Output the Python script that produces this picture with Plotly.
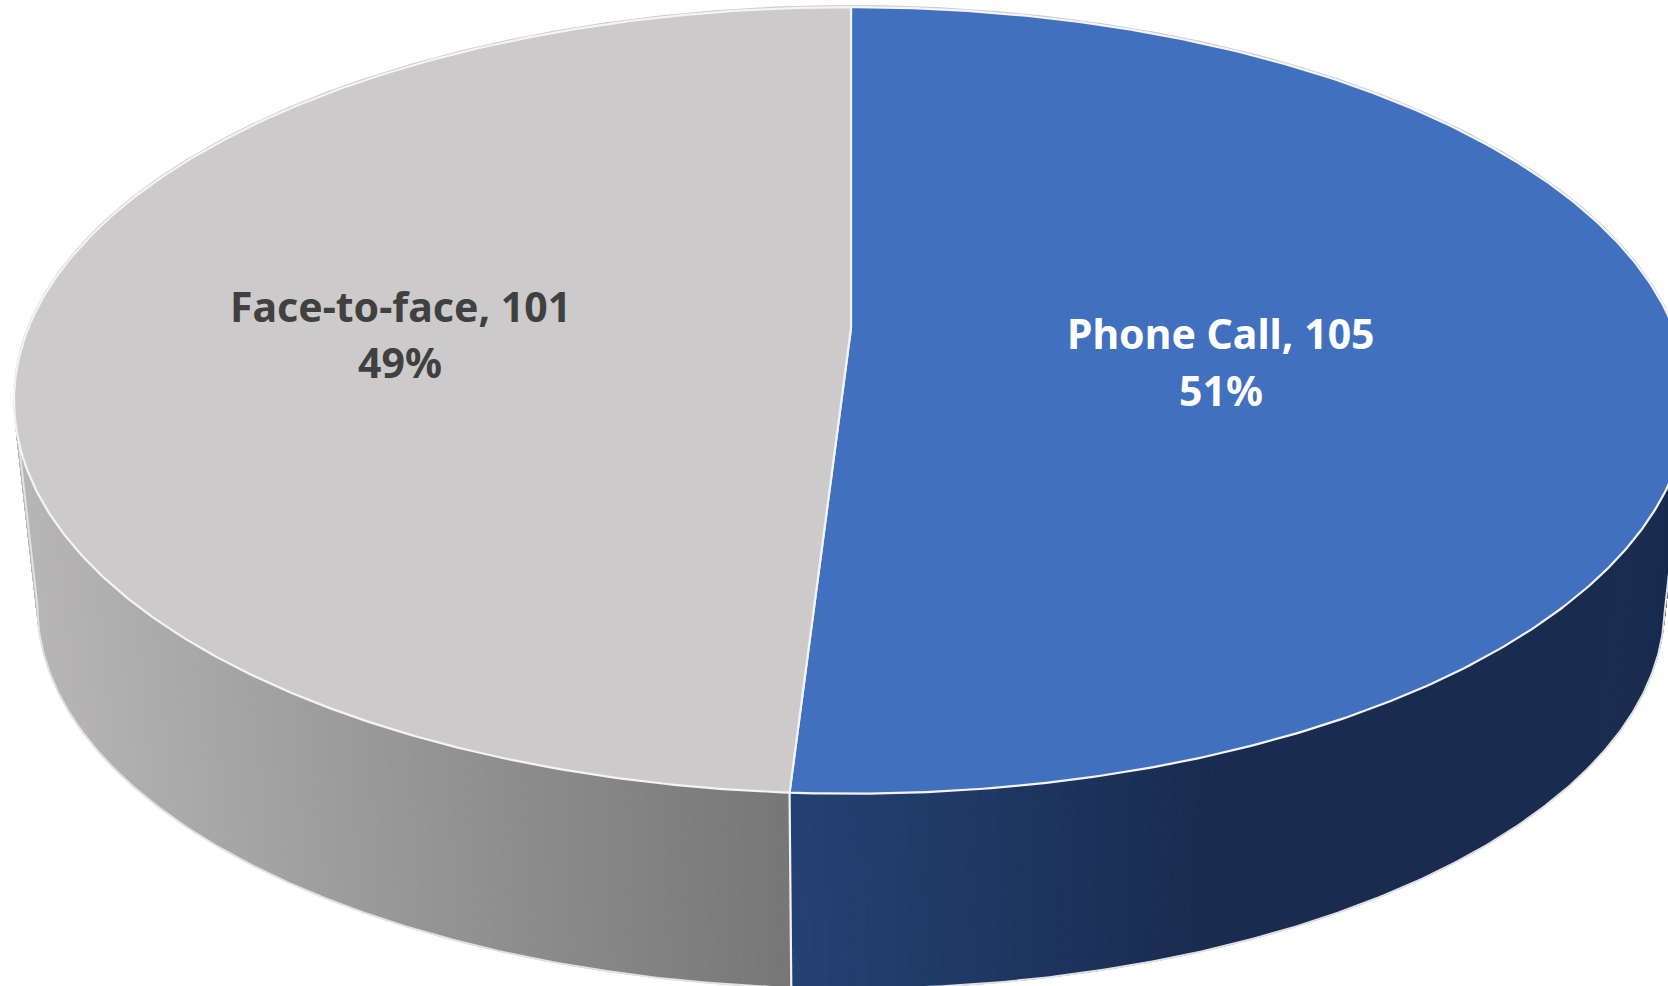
import numpy as np
import plotly.graph_objects as go

# ---- data ----
categories = ["Phone Call", "Face-to-face"]
values = [105, 101]
percent_labels = ["51%", "49%"]

# ---- styles ----
top_colors = ["#4170BF", "#CCCACB"]
label_colors = ["#FFFFFF", "#404040"]
side_stops = [
    [(790, (37, 66, 116)), (1210, (25, 44, 80)), (1700, (25, 44, 80))],
    [(20, (184, 182, 183)), (790, (119, 119, 119)), (800, (119, 119, 119))],
]
W, H = 1668, 986
CX, CY = 851, 328
A, B, K = 822.7, 380.0, 0.184
S_LOW, Y_SHIFT = 0.972, 206
label_xy = [(1221, 333, 390), (400, 306, 362)]
FONT = "Noto Sans"
FONT_SIZE = 41


def project(theta, lower=False):
    u, v = np.sin(theta), np.cos(theta)
    w = 1 + K * v
    x = A * u / w
    y = -B * v / w
    if not lower:
        return CX + x, CY + y
    # lower rim: same ellipse, slightly shrunk about its centre and moved down
    ey = B * K / (1 - K * K)
    return CX + x * S_LOW, CY + ey + (y - ey) * S_LOW + Y_SHIFT


def shade(stops, x):
    xs = [s[0] for s in stops]
    return "rgb(%d,%d,%d)" % tuple(np.interp(x, xs, [s[1][i] for s in stops]) for i in range(3))


fig = go.Figure()
total = sum(values)
edges = np.concatenate([[0], np.cumsum(values)]) / total * 2 * np.pi
NOHOVER = dict(hoverinfo="skip", showlegend=False, mode="lines")
TH_R = np.arccos(-K)                 # silhouette angles of the ellipse
TH_L = 2 * np.pi - TH_R

# side wall: thin strips, painted back to front
for i in range(len(values)):
    lo, hi = max(edges[i], TH_R), min(edges[i + 1], TH_L)
    th = np.linspace(lo, hi, 301)
    for j in np.argsort(-np.cos(th[:-1])):
        x0, y0 = project(th[j])
        x1, y1 = project(th[j + 1])
        x2, y2 = project(th[j + 1], True)
        x3, y3 = project(th[j], True)
        col = shade(side_stops[i], (x0 + x1) / 2)
        fig.add_trace(go.Scatter(x=[x0, x1, x2, x3, x0], y=[y0, y1, y2, y3, y0], fill="toself",
                                 fillcolor=col, line=dict(color=col, width=1), **NOHOVER))

# lower rim and outer edges of the wall
th_low = np.linspace(TH_R, TH_L, 400)
lx, ly = project(th_low, True)
ux0, uy0 = project(TH_R)
ux1, uy1 = project(TH_L)
fig.add_trace(go.Scatter(x=np.r_[ux0, lx, ux1], y=np.r_[uy0, ly, uy1],
                         line=dict(color="#E2E2E4", width=2), **NOHOVER))

# top ellipse back edge (soft grey halo)
th_back = np.linspace(-np.pi * 0.55, np.pi * 0.55, 500)
bx, by = project(th_back)
fig.add_trace(go.Scatter(x=bx, y=by - 1, line=dict(color="#C9CBD2", width=2), **NOHOVER))

# top slices
for i in range(len(values)):
    th = np.linspace(edges[i], edges[i + 1], 400)
    x, y = project(th)
    fig.add_trace(go.Scatter(x=np.r_[CX, x, CX], y=np.r_[CY, y, CY], fill="toself",
                             fillcolor=top_colors[i], line=dict(color="#F4F4F6", width=2.2),
                             name=categories[i], **{k: v for k, v in NOHOVER.items()}))

# front vertical seam
sx0, sy0 = project(edges[1])
sx1, sy1 = project(edges[1], True)
fig.add_trace(go.Scatter(x=[sx0, sx1], y=[sy0, sy1], line=dict(color="#F2F2F2", width=2.2), **NOHOVER))

# labels
for i in range(len(values)):
    lx_, ly1, ly2 = label_xy[i]
    for txt, yy in ((f"{categories[i]}, {values[i]}", ly1), (percent_labels[i], ly2)):
        fig.add_annotation(x=lx_, y=yy, text=f"<b>{txt}</b>", showarrow=False,
                           font=dict(family=FONT, size=FONT_SIZE, color=label_colors[i]))

fig.update_layout(
    width=W, height=H, margin=dict(l=0, r=0, t=0, b=0),
    paper_bgcolor="white", plot_bgcolor="white", showlegend=False,
    xaxis=dict(range=[0, W], visible=False, fixedrange=True),
    yaxis=dict(range=[H, 0], visible=False, fixedrange=True),
)
fig.write_html("out.html", config=dict(displayModeBar=False),
               post_script="document.body.style.margin='0';document.body.style.overflow='hidden';")
